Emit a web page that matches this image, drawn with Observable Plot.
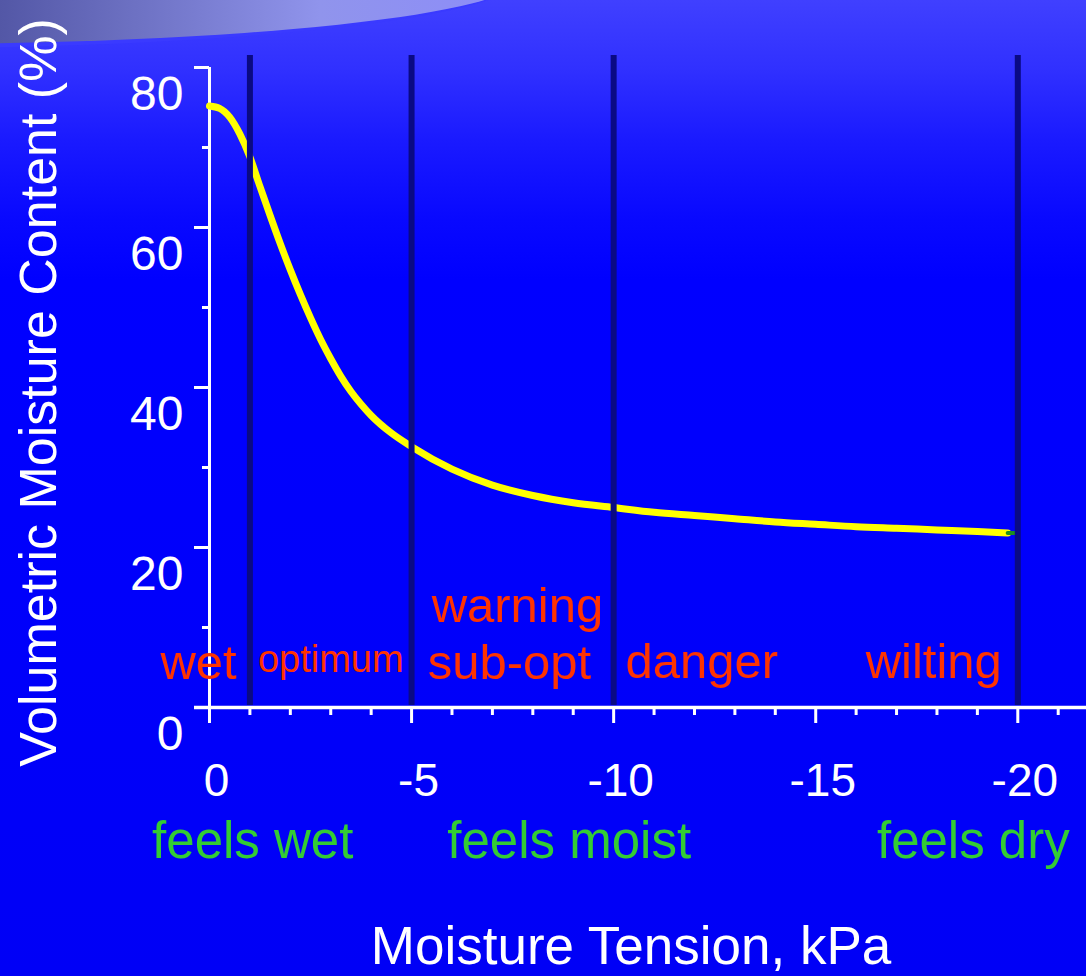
<!DOCTYPE html>
<html><head><meta charset="utf-8">
<script src="https://cdn.jsdelivr.net/npm/d3@7"></script>
<script src="https://cdn.jsdelivr.net/npm/@observablehq/plot@0.6"></script>
<style>
html,body{margin:0;padding:0;background:#0000f6;}
#slide{position:relative;width:1086px;height:976px;overflow:hidden;
 background:linear-gradient(to bottom,#4040ff 0px,#3030ff 70px,#1a1aff 140px,#0808ff 220px,#0000ff 280px,#0000f6 976px);}
#swoosh{position:absolute;left:-720px;top:-92px;width:1240px;height:140px;border-radius:50%;box-sizing:border-box;
 background:linear-gradient(to right,#5357a6 720px,#6e72c4 860px,#9094ec 1040px,#8d8df8 1220px);
 border-bottom:4px solid #3a3aff;}
#chart{position:absolute;left:0;top:0;}
</style></head><body>
<div id="slide"><div id="swoosh"></div><div id="chart"></div></div>
<script>
// Moisture release curve (tension kPa, volumetric moisture %)
const tension  = [0, -0.25, -0.5, -0.75, -1, -1.25, -1.5, -1.75, -2, -2.25, -2.5, -2.75, -3, -3.25, -3.5, -3.75, -4, -4.5, -5, -6, -7, -8, -9, -10, -11, -12, -13, -14, -15, -16, -17, -18, -19, -19.75];
const moisture = [75.2, 74.9, 73.8, 71.7, 68.8, 65.1, 61.5, 58.0, 54.7, 51.6, 48.7, 46.0, 43.6, 41.4, 39.5, 37.9, 36.5, 34.3, 32.6, 29.8, 27.8, 26.5, 25.6, 25.0, 24.4, 24.0, 23.6, 23.2, 22.9, 22.6, 22.4, 22.2, 22.0, 21.8];
const tailTension  = [-19.75, -19.95];
const tailMoisture = [21.8, 21.8];

// Zone boundaries (kPa)
const zoneBounds = [-1, -5, -10, -20];

// Zone labels
const zoneLabels = ["wet", "sub-opt", "warning", "danger", "wilting"];
const zoneLabelX = [0.27, -7.42, -7.62, -12.18, -17.92];
const zoneLabelY = [3.6, 3.6, 10.75, 3.7, 3.7];
const smallLabels = ["optimum"];
const smallLabelX = [-3.0];
const smallLabelY = [4.4];

// Feel labels
const feelLabels = ["feels wet", "feels moist", "feels dry"];
const feelX = [-1.07, -8.9, -18.9];

// Axis ticks
const xMajor = [0, -5, -10, -15, -20];
const xTickLabels = ["0", "-5", "-10", "-15", "-20"];
const xMinor = [-1, -2, -3, -4, -6, -7, -8, -9, -11, -12, -13, -14, -16, -17, -18, -19, -21];
const yMajor = [0, 20, 40, 60, 80];
const yTickLabels = ["0", "20", "40", "60", "80"];
const yMinor = [10, 30, 50, 70];

const xTitle = "Moisture Tension, kPa";
const yTitle = "Volumetric Moisture Content (%)";

const curve = tension.map((t, i) => ({t, m: moisture[i]}));
const tail = tailTension.map((t, i) => ({t, m: tailMoisture[i]}));
const zones = zoneLabels.map((s, i) => ({s, x: zoneLabelX[i], y: zoneLabelY[i]}));
const smalls = smallLabels.map((s, i) => ({s, x: smallLabelX[i], y: smallLabelY[i]}));
const feels = feelLabels.map((s, i) => ({s, x: feelX[i]}));

const RED = "#ff3300", GREEN = "#33cc33", NAVY = "#0a0a84";

const chart = Plot.plot({
  width: 1086, height: 976,
  marginLeft: 209, marginRight: 0, marginTop: 67, marginBottom: 269,
  x: {domain: [0, -21.7]},
  y: {domain: [0, 80]},
  style: {background: "transparent", color: "white", fontFamily: "'Liberation Sans', Arial, sans-serif", overflow: "visible"},
  marks: [
    // axis lines
    Plot.ruleY([0], {stroke: "white", strokeWidth: 3.5, insetLeft: -15}),
    Plot.ruleX([0], {y1: 0, y2: 80, stroke: "white", strokeWidth: 3}),
    // x ticks
    Plot.axisX(xMajor, {tickSize: 16, strokeWidth: 3, tickFormat: () => "", label: null}),
    Plot.axisX(xMinor, {tickSize: 8, strokeWidth: 3, tickFormat: () => "", label: null}),
    Plot.axisX(xMajor, {tickSize: 0, tickPadding: 56, dx: 7, fontSize: 46, fill: "white",
      tickFormat: (d, i) => xTickLabels[i], label: null}),
    // y ticks
    Plot.axisY(yMajor, {tickSize: 15, strokeWidth: 3, tickFormat: () => "", label: null}),
    Plot.axisY(yMinor, {tickSize: 7, strokeWidth: 3, tickFormat: () => "", label: null}),
    Plot.axisY(yMajor, {tickSize: 0, tickPadding: 26, dy: 27, fontSize: 48, fill: "white",
      tickFormat: (d, i) => yTickLabels[i], label: null}),
    // curve
    Plot.line(curve, {x: "t", y: "m", stroke: "#ffff00", strokeWidth: 7, curve: "monotone-x"}),
    Plot.line(tail, {x: "t", y: "m", stroke: "#1d8f1d", strokeWidth: 4}),
    // zone boundaries
    Plot.ruleX(zoneBounds, {y1: 0.25, y2: 81.5, stroke: NAVY, strokeWidth: 6}),
    // zone labels
    Plot.text(zones, {x: "x", y: "y", text: "s", fill: RED, fontSize: 49, lineAnchor: "bottom"}),
    Plot.text(smalls, {x: "x", y: "y", text: "s", fill: RED, fontSize: 38, lineAnchor: "bottom"}),
    // feel labels
    Plot.text(feels, {x: "x", text: "s", frameAnchor: "bottom", dy: 150, lineAnchor: "bottom", fill: GREEN, fontSize: 51}),
    // titles
    Plot.text([xTitle], {frameAnchor: "bottom", dy: 256, dx: -17, lineAnchor: "bottom", fill: "white", fontSize: 53}),
    Plot.text([yTitle], {frameAnchor: "left", textAnchor: "middle", rotate: -90, dx: -190, dy: 5, lineAnchor: "top", fill: "white", fontSize: 52})
  ]
});
document.getElementById("chart").appendChild(chart);
</script>
</body></html>
